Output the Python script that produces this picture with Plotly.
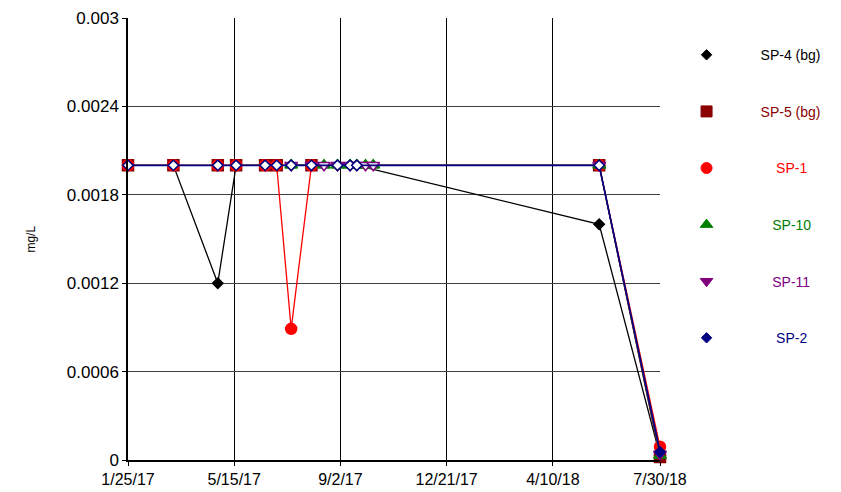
import plotly.graph_objects as go

# ---- data ----
series_names = ["SP-4 (bg)", "SP-5 (bg)", "SP-1", "SP-10", "SP-11", "SP-2"]
series_colors = ["#000000", "#8B0000", "#FF0000", "#008000", "#800080", "#000080"]
series_symbols = ["diamond", "square", "circle", "triangle-up", "triangle-down", "diamond"]

sp4_dates = ["2017-01-25", "2017-03-13", "2017-04-28", "2017-05-17", "2017-06-16", "2017-06-28",
             "2017-07-13", "2017-08-03", "2017-08-30", "2017-09-12", "2017-09-19", "2018-05-28", "2018-07-30"]
sp4_vals = [0.002, 0.002, 0.0012, 0.002, 0.002, 0.002, 0.002, 0.002, 0.002, 0.002, 0.002, 0.0016, 0.00003]

sp5_dates = ["2017-01-25", "2017-03-13", "2017-04-28", "2017-05-17", "2017-06-16", "2017-06-28",
             "2017-08-03", "2018-05-28", "2018-07-30"]
sp5_vals = [0.002, 0.002, 0.002, 0.002, 0.002, 0.002, 0.002, 0.002, 0.00002]

sp1_dates = ["2017-01-25", "2017-03-13", "2017-04-28", "2017-05-17", "2017-06-16", "2017-06-28",
             "2017-07-13", "2017-08-03", "2018-05-28", "2018-07-30"]
sp1_vals = [0.002, 0.002, 0.002, 0.002, 0.002, 0.002, 0.00089, 0.002, 0.002, 0.00009]

sp10_dates = ["2017-07-13", "2017-08-16", "2017-08-30", "2017-09-12", "2017-09-19", "2017-09-28",
              "2017-10-06", "2018-05-28", "2018-07-30"]
sp10_vals = [0.002, 0.002, 0.002, 0.002, 0.002, 0.002, 0.002, 0.002, 0.00003]

sp11_dates = ["2017-07-13", "2017-08-03", "2017-08-16", "2017-08-30", "2017-09-12", "2017-09-19",
              "2017-09-28", "2017-10-06", "2018-05-28", "2018-07-30"]
sp11_vals = [0.002, 0.002, 0.002, 0.002, 0.002, 0.002, 0.002, 0.002, 0.002, 0.00004]

sp2_dates = ["2017-01-25", "2017-03-13", "2017-04-28", "2017-05-17", "2017-06-16", "2017-06-28",
             "2017-07-13", "2017-08-03", "2017-08-30", "2017-09-12", "2017-09-19", "2018-05-28", "2018-07-30"]
sp2_vals = [0.002, 0.002, 0.002, 0.002, 0.002, 0.002, 0.002, 0.002, 0.002, 0.002, 0.002, 0.002, 0.000055]

x_tick_vals = ["2017-01-25", "2017-05-15", "2017-09-02", "2017-12-21", "2018-04-10", "2018-07-30"]
x_tick_text = ["1/25/17", "5/15/17", "9/2/17", "12/21/17", "4/10/18", "7/30/18"]
y_tick_vals = [0, 0.0006, 0.0012, 0.0018, 0.0024, 0.003]
y_tick_text = ["0", "0.0006", "0.0012", "0.0018", "0.0024", "0.003"]
nd_value = 0.002  # non-detect reporting level (drawn hollow for SP-11 / SP-2)

all_dates = [sp4_dates, sp5_dates, sp1_dates, sp10_dates, sp11_dates, sp2_dates]
all_vals = [sp4_vals, sp5_vals, sp1_vals, sp10_vals, sp11_vals, sp2_vals]
hollow_nd = [False, False, False, False, True, True]
legend_pad = [0, 0, 4, 3, 3, 4]
marker_sizes = [8, 11, 11, 11, 11, 8]
legend_sizes = [8, 11, 11, 11, 11, 8]

FONT = "Arial, Liberation Sans, sans-serif"

fig = go.Figure()
for i in range(6):
    col = series_colors[i]
    vals = all_vals[i]
    if hollow_nd[i]:
        fills = ["#FFFFFF" if v == nd_value else col for v in vals]
    else:
        fills = col
    fig.add_trace(go.Scatter(
        x=all_dates[i], y=vals, mode="lines+markers", cliponaxis=False,
        line=dict(color=col, width=1.3 if i != 5 else 1.6),
        marker=dict(symbol=series_symbols[i], size=marker_sizes[i], color=fills,
                    line=dict(color=col, width=1.5)),
        showlegend=False, name=series_names[i]))

# legend entries
for i in range(6):
    col = series_colors[i]
    label = "\u00a0" * legend_pad[i] + series_names[i]
    fig.add_trace(go.Scatter(
        x=[None], y=[None], mode="markers",
        marker=dict(symbol=series_symbols[i], size=legend_sizes[i], color=col, line=dict(color=col, width=1)),
        name='<span style="color:%s">%s</span>' % (col, label),
        legendgroup="g%d" % i, showlegend=True))

# page body has an 8px default margin, so the figure is 8px smaller and margins shifted
fig.update_layout(
    width=833, height=484,
    margin=dict(l=120, r=181, t=10, b=32, autoexpand=False),
    paper_bgcolor="white", plot_bgcolor="white",
    font=dict(family=FONT, size=14, color="#000000"),
    legend=dict(x=0.986, y=0.952, xanchor="left", yanchor="top",
                tracegroupgap=35.4, itemwidth=98,
                font=dict(family=FONT, size=14), bgcolor="rgba(0,0,0,0)"),
    xaxis=dict(type="date", range=["2017-01-25", "2018-07-30"], automargin=False,
               tickvals=x_tick_vals, ticktext=x_tick_text,
               showgrid=True, gridcolor="#000000", gridwidth=1,
               showline=True, linecolor="#000000", linewidth=2, mirror=False,
               ticks="outside", ticklen=4, tickcolor="#000000",
               tickfont=dict(family=FONT, size=16), zeroline=False),
    yaxis=dict(range=[0, 0.003], tickvals=y_tick_vals, ticktext=y_tick_text, automargin=False,
               showgrid=True, gridcolor="#404040", gridwidth=1.3,
               showline=True, linecolor="#000000", linewidth=1.5,
               ticks="outside", ticklen=4, tickcolor="#000000",
               tickfont=dict(family=FONT, size=17), zeroline=False),
    annotations=[dict(text="mg/L", xref="paper", yref="paper", x=-0.2, y=0.5,
                      textangle=-90, showarrow=False,
                      font=dict(family=FONT, size=12))],
)

fig.write_html("out.html")
